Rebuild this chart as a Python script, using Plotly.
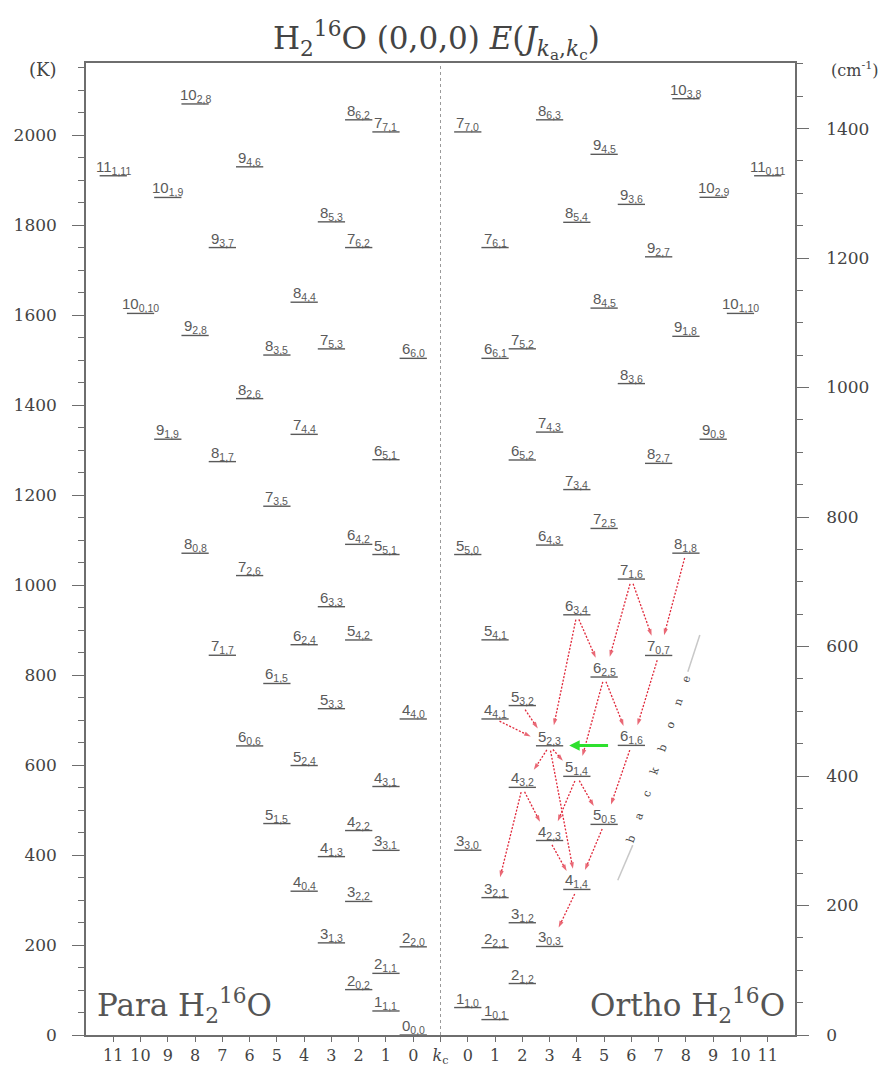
import math
import plotly.graph_objects as go

K_PER_CM = 1.4388  # 1 cm^-1 = 1.4388 K

# ---------------- data: para levels (J, Ka, Kc, E in cm^-1) ----------------
para_J  = [0, 1, 2, 2, 2, 3, 3, 4, 4, 3, 4, 5, 4, 5, 6, 4, 5, 6, 7, 6, 5, 6, 7, 8,
           5, 6, 7, 8, 6, 9, 7, 8, 6, 8, 7, 9, 10, 8, 7, 9, 8, 10, 11, 9, 7, 8, 10]
para_ka = [0, 1, 0, 1, 2, 1, 2, 0, 1, 3, 2, 1, 3, 2, 0, 4, 3, 1, 1, 2, 4, 3, 2, 0,
           5, 4, 3, 1, 5, 1, 4, 2, 6, 3, 5, 2, 0, 4, 6, 3, 5, 1, 1, 4, 7, 6, 2]
para_kc = [0, 1, 2, 1, 0, 3, 2, 4, 3, 1, 2, 5, 1, 4, 6, 0, 3, 5, 7, 4, 2, 3, 6, 8,
           1, 2, 5, 7, 1, 9, 4, 6, 0, 5, 3, 8, 10, 4, 2, 7, 3, 9, 11, 6, 1, 2, 8]
para_E  = [0.0, 37.1, 70.1, 95.2, 136.2, 142.3, 206.3, 222.1, 275.5, 285.2, 315.8,
           326.6, 383.8, 416.2, 446.5, 488.1, 504.0, 542.9, 586.5, 602.8, 610.1,
           661.5, 709.6, 744.1, 742.1, 757.8, 816.7, 885.6, 888.6, 920.2, 927.7,
           982.9, 1045.1, 1050.2, 1059.7, 1080.4, 1114.5, 1131.8, 1216.2, 1216.2,
           1255.9, 1293.6, 1327.1, 1340.9, 1394.8, 1413.5, 1438.0]

# ---------------- data: ortho levels ----------------
ortho_J  = [1, 1, 2, 2, 3, 3, 3, 4, 3, 4, 5, 4, 5, 5, 6, 4, 5, 6, 7, 5, 6, 7, 5, 8,
            6, 7, 7, 8, 6, 9, 7, 8, 6, 7, 9, 10, 8, 9, 7, 8, 9, 10, 11, 9, 7, 8, 10]
ortho_ka = [0, 1, 1, 2, 0, 1, 2, 1, 3, 2, 0, 3, 1, 2, 1, 4, 3, 2, 0, 4, 3, 1, 5, 1,
            4, 2, 3, 2, 5, 0, 4, 3, 6, 5, 1, 1, 4, 2, 6, 5, 3, 2, 0, 4, 7, 6, 3]
ortho_kc = [1, 0, 2, 1, 3, 2, 1, 4, 0, 3, 5, 2, 4, 3, 6, 1, 2, 5, 7, 1, 4, 6, 0, 8,
            3, 5, 4, 7, 2, 9, 3, 6, 1, 2, 8, 10, 5, 7, 1, 4, 6, 9, 11, 5, 0, 3, 8]
ortho_E  = [23.8, 42.4, 79.5, 134.9, 136.8, 173.4, 212.2, 224.8, 285.4, 300.4, 325.3,
            382.5, 399.5, 446.7, 447.3, 488.1, 508.8, 552.9, 586.2, 610.3, 649.0,
            704.2, 742.1, 744.2, 756.7, 782.4, 842.4, 882.9, 888.1, 920.2, 931.2,
            1006.1, 1045.1, 1059.8, 1079.1, 1114.5, 1122.7, 1201.9, 1216.2, 1255.2,
            1282.9, 1293.8, 1327.1, 1360.2, 1394.8, 1413.5, 1446.1]

# ---------------- data: backbone cascade (ortho) ----------------
arrow_from = [(8, 1, 8), (7, 1, 6), (7, 1, 6), (6, 3, 4), (6, 3, 4), (7, 0, 7),
              (6, 2, 5), (6, 2, 5), (5, 3, 2), (4, 4, 1), (5, 2, 3), (5, 2, 3),
              (5, 2, 3), (6, 1, 6), (5, 1, 4), (5, 1, 4), (4, 3, 2), (4, 3, 2),
              (4, 2, 3), (5, 0, 5), (4, 1, 4)]
arrow_to   = [(7, 0, 7), (6, 2, 5), (7, 0, 7), (6, 2, 5), (5, 2, 3), (6, 1, 6),
              (6, 1, 6), (5, 1, 4), (5, 2, 3), (5, 2, 3), (4, 3, 2), (5, 1, 4),
              (4, 1, 4), (5, 0, 5), (5, 0, 5), (4, 2, 3), (4, 2, 3), (3, 2, 1),
              (4, 1, 4), (4, 1, 4), (3, 0, 3)]
green_from = (6, 1, 6)
green_to = (5, 2, 3)

# ---------------- axes ----------------
left_ticks_K = [0, 200, 400, 600, 800, 1000, 1200, 1400, 1600, 1800, 2000]
right_ticks_cm = [0, 200, 400, 600, 800, 1000, 1200, 1400]
kc_values = list(range(0, 12))
Y_MAX_K = 2160

# ---------------- layout geometry ----------------
# the page body has an 8px margin, so the figure is made 8px smaller
OFF = 8
W, H = 889 - OFF, 1067 - OFF
ML, MR, MT, MB = 86 - OFF, 94, 63 - OFF, 32
PW, PH = W - ML - MR, H - MT - MB
X_MIN, X_MAX = -13, 13
px_x = PW / (X_MAX - X_MIN)
px_y = PH / Y_MAX_K

GRAY = "#5a5a5a"
AX = "#6e6e6e"
RED = "#e0283a"
TXT = "#444444"
SANS = "Liberation Sans, Arial, sans-serif"
SERIF = "DejaVu Serif, serif"


def para_x(kc):
    return -(kc + 1)


def ortho_x(kc):
    return kc + 1


def page_x(px):
    """page pixel -> paper fraction"""
    return (px - OFF - ML) / PW


def page_y(py):
    return (H + OFF - MB - py) / PH


fig = go.Figure()
annotations = []


def level_label(x, y, J, ka, kc):
    return dict(x=x, y=y, xref="x", yref="y", text=f"{J}<sub>{ka},{kc}</sub>",
                showarrow=False, xanchor="center", yanchor="bottom", yshift=-3,
                font=dict(family=SANS, size=15, color=GRAY))


# level lines
lx, ly = [], []
levels = {}
for J, ka, kc, E in zip(para_J, para_ka, para_kc, para_E):
    x, y = para_x(kc), E * K_PER_CM
    lx += [x - 0.5, x + 0.5, None]
    ly += [y, y, None]
    annotations.append(level_label(x, y, J, ka, kc))
for J, ka, kc, E in zip(ortho_J, ortho_ka, ortho_kc, ortho_E):
    x, y = ortho_x(kc), E * K_PER_CM
    levels[(J, ka, kc)] = (x, y)
    lx += [x - 0.5, x + 0.5, None]
    ly += [y, y, None]
    annotations.append(level_label(x, y, J, ka, kc))

fig.add_trace(go.Scatter(x=lx, y=ly, mode="lines", line=dict(color=GRAY, width=1.4),
                         hoverinfo="skip", showlegend=False))

# cascade arrows
for f, t in zip(arrow_from, arrow_to):
    x0, y0 = levels[f]
    x1, y1 = levels[t]
    dxp, dyp = (x1 - x0) * px_x, (y1 - y0) * px_y
    L = math.hypot(dxp, dyp)
    ux, uy = dxp / L, dyp / L
    sx, sy = x0 + ux * 5 / px_x, y0 + uy * 5 / px_y
    ex, ey = x1 - ux * 21 / px_x, y1 - uy * 21 / px_y
    fig.add_trace(go.Scatter(
        x=[sx, ex], y=[sy, ey], mode="lines+markers",
        line=dict(color=RED, width=1.3, dash="2px,1.6px"),
        marker=dict(symbol=["circle", "arrow"], size=[0, 7], color=RED,
                    angleref="previous", line=dict(width=0)),
        hoverinfo="skip", showlegend=False))

# green arrow
gx0, gy = levels[green_from]
gx1, _ = levels[green_to]
annotations.append(dict(x=gx1 + 0.72, y=gy, ax=gx0 - 0.8, ay=gy, xref="x", yref="y",
                        axref="x", ayref="y", showarrow=True, arrowhead=2, arrowsize=0.7,
                        arrowwidth=3, arrowcolor="#2ee02e", text=""))

# backbone decoration
bb_lo = (ortho_x(5.5), 344.0, ortho_x(6.05), 422.0)
bb_hi = (ortho_x(8.07), 807.0, ortho_x(8.51), 889.0)
for x0, y0, x1, y1 in (bb_lo, bb_hi):
    fig.add_trace(go.Scatter(x=[x0, x1], y=[y0, y1], mode="lines",
                             line=dict(color="#c8c8c8", width=1.5),
                             hoverinfo="skip", showlegend=False))
sep = "\u00a0" * 5
annotations.append(dict(x=ortho_x(7.0), y=612, xref="x", yref="y",
                        text=sep.join(list("backbone")), showarrow=False, textangle=-71,
                        font=dict(family=SERIF, size=11, color=TXT)))

# invisible trace for the right axis
fig.add_trace(go.Scatter(x=[None], y=[None], yaxis="y2", showlegend=False, hoverinfo="skip"))

# titles and texts
annotations.append(dict(x=page_x(436), y=page_y(40), xref="paper", yref="paper",
                        text="H<sub>2</sub><sup>16</sup>O (0,0,0) <i>E</i>(<i>J</i><sub><i>k</i><sub>a</sub>,<i>k</i><sub>c</sub></sub>)",
                        showarrow=False, xanchor="center", yanchor="middle",
                        font=dict(family=SERIF, size=31, color=TXT)))
annotations.append(dict(x=page_x(43), y=page_y(70), xref="paper", yref="paper",
                        text="(K)", showarrow=False, xanchor="center", yanchor="middle",
                        font=dict(family=SERIF, size=18, color=TXT)))
annotations.append(dict(x=page_x(855), y=page_y(70), xref="paper", yref="paper",
                        text="(cm<sup>-1</sup>)", showarrow=False, xanchor="center", yanchor="middle",
                        font=dict(family=SERIF, size=16, color=TXT)))
annotations.append(dict(x=page_x(95), y=page_y(1005), xref="paper", yref="paper",
                        text="Para H<sub>2</sub><sup>16</sup>O", showarrow=False,
                        xanchor="left", yanchor="middle",
                        font=dict(family=SERIF, size=31, color="#555555")))
annotations.append(dict(x=page_x(787), y=page_y(1005), xref="paper", yref="paper",
                        text="Ortho H<sub>2</sub><sup>16</sup>O", showarrow=False,
                        xanchor="right", yanchor="middle",
                        font=dict(family=SERIF, size=31, color="#555555")))

# x ticks
tickvals = [para_x(k) for k in kc_values[::-1]] + [0] + [ortho_x(k) for k in kc_values]
ticktext = [str(k) for k in kc_values[::-1]] + ["<i>k</i><sub>c</sub>"] + [str(k) for k in kc_values]

fig.update_layout(
    width=W, height=H, margin=dict(l=ML, r=MR, t=MT, b=MB, autoexpand=False),
    paper_bgcolor="white", plot_bgcolor="white", showlegend=False,
    annotations=annotations,
    shapes=[dict(type="line", xref="x", yref="paper", x0=0, x1=0, y0=0, y1=1,
                 line=dict(color="#9a9a9a", width=1, dash="dot"), layer="below")],
    xaxis=dict(range=[X_MIN, X_MAX], tickvals=tickvals, ticktext=ticktext, automargin=False,
               showgrid=False, zeroline=False, showline=True, mirror=True,
               linecolor=AX, linewidth=1.5, ticks="outside", ticklen=5, tickcolor=AX,
               tickfont=dict(family=SERIF, size=16, color=TXT)),
    yaxis=dict(range=[0, Y_MAX_K], tickvals=left_ticks_K, showgrid=False, zeroline=False,
               automargin=False,
               showline=True, linecolor=AX, linewidth=1.5, ticks="outside", ticklen=12,
               tickcolor=AX, ticklabelstandoff=12,
               minor=dict(dtick=50, ticks="outside", ticklen=6, tickcolor=AX),
               tickfont=dict(family=SERIF, size=17, color=TXT)),
    yaxis2=dict(range=[0, Y_MAX_K / K_PER_CM], tickvals=right_ticks_cm, overlaying="y",
                side="right", showgrid=False, zeroline=False, showline=True, automargin=False,
                linecolor=AX, linewidth=1.5, ticks="outside", ticklen=12, tickcolor=AX,
                ticklabelstandoff=14,
                minor=dict(dtick=50, ticks="outside", ticklen=6, tickcolor=AX),
                tickfont=dict(family=SERIF, size=17, color=TXT)),
)

fig.write_html("out.html")
